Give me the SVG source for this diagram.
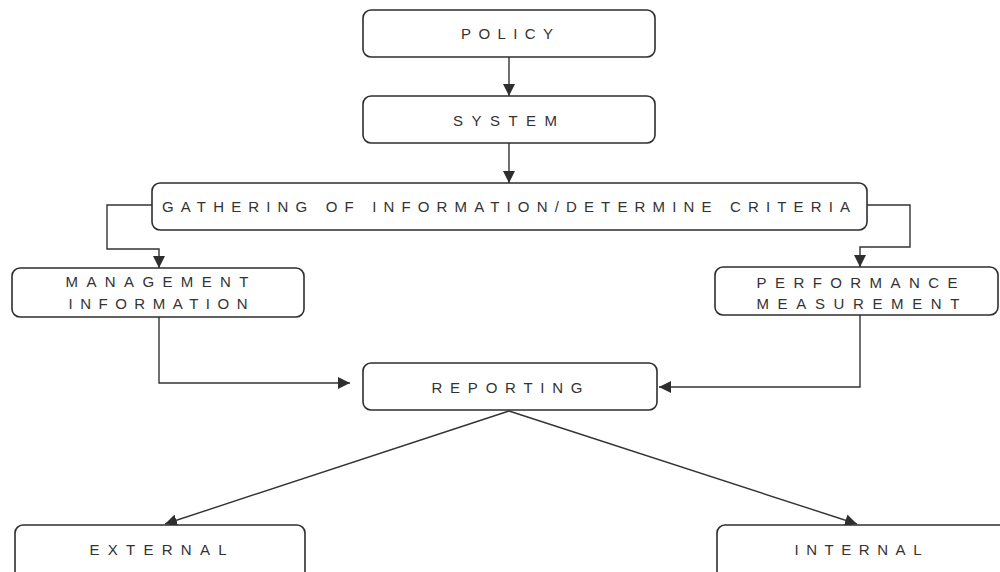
<svg xmlns="http://www.w3.org/2000/svg" width="1000" height="572" viewBox="0 0 1000 572">
  <style>
    .box { fill: #ffffff; stroke: #2e2e2e; stroke-width: 1.6; }
    .lbl { font-family: "Liberation Sans", Arial, sans-serif; font-size: 15px; fill: #333333; text-anchor: middle; }
    .wire { fill: none; stroke: #333333; stroke-width: 1.4; }
  </style>
  <defs>
    <marker id="arrow" markerUnits="userSpaceOnUse" markerWidth="12" markerHeight="12" viewBox="0 0 12 12" refX="12" refY="6" orient="auto">
      <path d="M0,0 L12,6 L0,12 Z" fill="#2e2e2e"/>
    </marker>
  </defs>
  <rect width="1000" height="572" fill="#ffffff"/>

  <g id="connectors">
    <line class="wire" x1="509" y1="57" x2="509" y2="96" marker-end="url(#arrow)"/>
    <line class="wire" x1="509" y1="143" x2="509" y2="183" marker-end="url(#arrow)"/>
    <polyline class="wire" points="152,205 107,205 107,249 159,249 159,268" marker-end="url(#arrow)"/>
    <polyline class="wire" points="867,205 910,205 910,247 860,247 860,267" marker-end="url(#arrow)"/>
    <polyline class="wire" points="159,317 159,383 350,383" marker-end="url(#arrow)"/>
    <polyline class="wire" points="860,315 860,387 659,387" marker-end="url(#arrow)"/>
    <line class="wire" x1="509" y1="411" x2="165" y2="524" marker-end="url(#arrow)"/>
    <line class="wire" x1="509" y1="411" x2="857" y2="524" marker-end="url(#arrow)"/>
  </g>

  <g id="policy">
    <rect class="box" x="363" y="10" width="292" height="47" rx="8"/>
    <text class="lbl" x="507" y="39" textLength="92" lengthAdjust="spacing">POLICY</text>
  </g>
  <g id="system">
    <rect class="box" x="363" y="96" width="292" height="47" rx="8"/>
    <text class="lbl" x="505" y="125.5" textLength="104" lengthAdjust="spacing">SYSTEM</text>
  </g>
  <g id="gathering">
    <rect class="box" x="152" y="183" width="715" height="47" rx="8"/>
    <text class="lbl" x="506" y="212" textLength="688" lengthAdjust="spacing">GATHERING OF INFORMATION/DETERMINE CRITERIA</text>
  </g>
  <g id="management">
    <rect class="box" x="12" y="268" width="292" height="49" rx="8"/>
    <text class="lbl" x="157" y="286.5" textLength="183" lengthAdjust="spacing">MANAGEMENT</text>
    <text class="lbl" x="158" y="308.5" textLength="179" lengthAdjust="spacing">INFORMATION</text>
  </g>
  <g id="performance">
    <rect class="box" x="715" y="267" width="283" height="48" rx="8"/>
    <text class="lbl" x="857" y="287.5" textLength="201" lengthAdjust="spacing">PERFORMANCE</text>
    <text class="lbl" x="858" y="308.5" textLength="203" lengthAdjust="spacing">MEASUREMENT</text>
  </g>
  <g id="reporting">
    <rect class="box" x="363" y="363" width="294" height="47" rx="8"/>
    <text class="lbl" x="507" y="393" textLength="151" lengthAdjust="spacing">REPORTING</text>
  </g>
  <g id="external">
    <rect class="box" x="15" y="525" width="290" height="60" rx="8"/>
    <text class="lbl" x="158" y="554.5" textLength="137" lengthAdjust="spacing">EXTERNAL</text>
  </g>
  <g id="internal">
    <rect class="box" x="717" y="525" width="290" height="60" rx="8"/>
    <text class="lbl" x="858" y="554.5" textLength="127" lengthAdjust="spacing">INTERNAL</text>
  </g>
</svg>
